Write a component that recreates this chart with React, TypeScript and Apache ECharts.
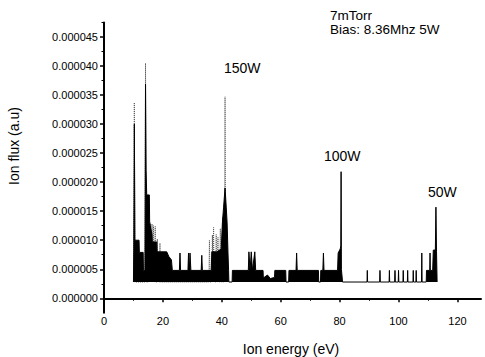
import React, { useEffect, useRef } from "react";
import * as echarts from "echarts";

// Noise floor of the detector (a.u.)
const baseline = 2.8e-6;

// 150W: tall dotted spikes (eV, flux)
const energy150 = [
  10.1, 10.3, 10.5, 13.9, 14.1, 14.3, 15.0, 15.2, 15.4, 15.6, 15.8, 16.0, 16.1, 16.3, 16.5, 16.6, 16.8, 17.0, 17.2, 17.4, 17.6,
  17.9, 18.1, 18.3, 18.8, 19.0, 19.2, 35.6, 35.8, 36.0, 36.6, 36.8, 37.0, 37.0, 37.2, 37.4, 37.9, 38.1, 38.3, 38.5, 38.7, 38.9,
  39.3, 39.5, 39.7, 40.1, 40.3, 40.5, 40.8, 41.1, 41.4,
];
const flux150 = [
  2.8e-6, 33.7e-6, 2.8e-6, 2.8e-6, 40.5e-6, 2.8e-6, 2.8e-6, 13.2e-6, 2.8e-6, 2.8e-6, 13.0e-6, 2.8e-6, 2.8e-6, 12.8e-6, 2.8e-6, 2.8e-6, 12.5e-6, 2.8e-6, 2.8e-6, 12.4e-6, 2.8e-6,
  2.8e-6, 10.2e-6, 2.8e-6, 2.8e-6, 9.5e-6, 2.8e-6, 2.8e-6, 10.0e-6, 2.8e-6, 2.8e-6, 10.9e-6, 2.8e-6, 2.8e-6, 12.2e-6, 2.8e-6, 2.8e-6, 11.0e-6, 2.8e-6, 2.8e-6, 10.5e-6, 2.8e-6,
  2.8e-6, 12.0e-6, 2.8e-6, 2.8e-6, 14.0e-6, 2.8e-6, 2.8e-6, 34.7e-6, 2.8e-6,
];

// 100W: dense band with peak near 80 eV
const energy100 = [
  10.0, 10.1, 10.3, 10.5, 10.7, 11.9, 12.0, 13.3, 13.4, 13.9, 14.1, 14.3, 14.5, 15.4, 15.5, 16.3, 16.4, 17.9, 18.0, 21.3,
  22.0, 22.9, 23.2, 25.6, 25.8, 26.0, 28.5, 28.7, 29.0, 29.2, 29.5, 33.0, 33.2, 33.4, 36.4, 36.6, 38.3, 39.8, 40.2, 40.6,
  41.1, 41.5, 41.8, 42.1, 42.3, 42.4, 43.5, 43.6, 49.0, 49.2, 49.6, 50.0, 50.4, 51.2, 51.5, 54.0, 54.1, 55.5, 56.5, 57.9,
  58.0, 61.7, 61.8, 62.7, 62.8, 65.2, 65.4, 65.6, 72.8, 72.9, 73.5, 73.6, 74.3, 74.5, 74.7, 79.3, 79.5, 80.2, 80.4, 80.5,
  80.6, 81.0,
];
const flux100 = [
  2.8e-6, 8e-6, 30e-6, 10e-6, 10e-6, 10e-6, 7.9e-6, 7.9e-6, 4.8e-6, 4.8e-6, 36.9e-6, 22e-6, 17.8e-6, 17.8e-6, 13e-6, 11e-6, 9.7e-6, 9.7e-6, 8e-6, 8e-6,
  7.2e-6, 6.6e-6, 4.8e-6, 4.8e-6, 7.8e-6, 4.8e-6, 4.8e-6, 7.8e-6, 4.8e-6, 7.8e-6, 4.8e-6, 4.8e-6, 7.4e-6, 4.8e-6, 4.8e-6, 8e-6, 8e-6, 8.5e-6, 13e-6, 15.7e-6,
  19e-6, 15.7e-6, 13e-6, 7.8e-6, 4.8e-6, 2.8e-6, 2.8e-6, 4.8e-6, 4.8e-6, 8e-6, 4.8e-6, 8e-6, 4.8e-6, 8e-6, 4.8e-6, 4.8e-6, 3.5e-6, 4.0e-6, 3.4e-6, 3.6e-6,
  4.8e-6, 4.8e-6, 2.8e-6, 2.8e-6, 4.8e-6, 4.8e-6, 7.8e-6, 4.8e-6, 4.8e-6, 2.8e-6, 2.8e-6, 4.8e-6, 4.8e-6, 7.8e-6, 4.8e-6, 4.8e-6, 7.8e-6, 8.5e-6, 9e-6, 21.8e-6,
  5e-6, 2.8e-6,
];

// 50W: sparse spikes with peak near 113 eV
const energy50 = [
  81.0, 89.3, 89.4, 89.5, 93.6, 93.7, 93.8, 96.8, 96.9, 97.0, 98.7, 98.8, 98.9, 99.9, 100.0, 100.1, 101.5, 101.6, 101.7,
  103.0, 103.1, 103.2, 104.9, 105.0, 105.1, 105.9, 106.0, 106.1, 107.8, 107.9, 108.0, 109.4, 109.5, 110.6, 110.7, 110.8,
  111.6, 111.8, 112.5, 112.7, 112.9, 113.1,
];
const flux50 = [
  2.8e-6, 2.8e-6, 4.8e-6, 2.8e-6, 2.8e-6, 4.8e-6, 2.8e-6, 2.8e-6, 4.8e-6, 2.8e-6, 2.8e-6, 4.8e-6, 2.8e-6, 2.8e-6, 4.8e-6, 2.8e-6, 2.8e-6, 4.8e-6, 2.8e-6,
  2.8e-6, 4.8e-6, 2.8e-6, 2.8e-6, 4.8e-6, 2.8e-6, 2.8e-6, 4.8e-6, 2.8e-6, 2.8e-6, 7.8e-6, 2.8e-6, 2.8e-6, 4.8e-6, 4.8e-6, 7.8e-6, 4.8e-6,
  4.8e-6, 8.3e-6, 8.3e-6, 15.7e-6, 8e-6, 2.8e-6,
];

const xTicks = [0, 20, 40, 60, 80, 100, 120];
const xMinorTicks = [10, 30, 50, 70, 90, 110];
const yTicks = [0, 5e-6, 10e-6, 15e-6, 20e-6, 25e-6, 30e-6, 35e-6, 40e-6, 45e-6];
const yMinorTicks = [2.5e-6, 7.5e-6, 12.5e-6, 17.5e-6, 22.5e-6, 27.5e-6, 32.5e-6, 37.5e-6, 42.5e-6, 47.5e-6];

const FONT = "'Liberation Sans', Arial, sans-serif";

const zip = (xs: number[], ys: number[]) => xs.map((x, i) => [x, ys[i]]);

export default function App() {
  const ref = useRef<HTMLDivElement>(null);
  useEffect(() => {
    if (!ref.current) return;
    const chart = echarts.init(ref.current, null, { renderer: "svg" });
    const axisCommon = {
      axisLine: { show: true, lineStyle: { color: "#000", width: 2 } },
      splitLine: { show: false },
    };
    chart.setOption({
      animation: false,
      backgroundColor: "#fff",
      grid: { left: 104, right: 4, top: 22.5, bottom: 44.2, containLabel: false, outerBoundsMode: "none" },
      xAxis: [
        {
          type: "value",
          min: 0,
          max: 128,
          ...axisCommon,
          axisTick: { show: true, customValues: xTicks, length: 4, lineStyle: { color: "#000", width: 1.5 } },
          axisLabel: { customValues: xTicks, color: "#000", fontSize: 11, fontFamily: FONT, margin: 3 },
        },
        {
          type: "value",
          min: 0,
          max: 128,
          position: "bottom",
          axisLine: { show: false },
          splitLine: { show: false },
          axisTick: { show: true, customValues: xMinorTicks, length: 2.5, lineStyle: { color: "#000", width: 1 } },
          axisLabel: { show: false },
        },
      ],
      yAxis: [
        {
          type: "value",
          min: -2.5e-6,
          max: 47.5e-6,
          ...axisCommon,
          axisTick: { show: true, customValues: yTicks, length: 4, lineStyle: { color: "#000", width: 1.5 } },
          axisLabel: {
            customValues: yTicks,
            color: "#000",
            fontSize: 11,
            fontFamily: FONT,
            margin: 6,
            formatter: (v: number) => v.toFixed(6),
          },
        },
        {
          type: "value",
          min: -2.5e-6,
          max: 47.5e-6,
          position: "left",
          offset: 0,
          axisLine: { show: false },
          splitLine: { show: false },
          axisTick: { show: true, customValues: yMinorTicks, length: 2.5, lineStyle: { color: "#000", width: 1 } },
          axisLabel: { show: false },
        },
      ],
      series: [
        {
          name: "150W",
          type: "line",
          data: zip(energy150, flux150),
          showSymbol: false,
          lineStyle: { color: "#555", width: 1, type: "dotted" },
          z: 1,
        },
        {
          name: "100W",
          type: "line",
          data: zip(energy100, flux100),
          showSymbol: false,
          lineStyle: { color: "#000", width: 1 },
          areaStyle: { color: "#000", opacity: 1, origin: baseline },
          z: 2,
        },
        {
          name: "50W",
          type: "line",
          data: zip(energy50, flux50),
          showSymbol: false,
          lineStyle: { color: "#000", width: 1 },
          areaStyle: { color: "#000", opacity: 1, origin: baseline },
          z: 2,
        },
      ],
      graphic: [
        { type: "text", left: 330, top: 8, style: { text: "7mTorr", font: `13.5px ${FONT}`, fill: "#000" } },
        { type: "text", left: 330, top: 22, style: { text: "Bias: 8.36Mhz 5W", font: `13.5px ${FONT}`, fill: "#000" } },
        { type: "text", left: 224, top: 61, style: { text: "150W", font: `14px ${FONT}`, fill: "#000" } },
        { type: "text", left: 324, top: 149, style: { text: "100W", font: `14px ${FONT}`, fill: "#000" } },
        { type: "text", left: 428, top: 185, style: { text: "50W", font: `14px ${FONT}`, fill: "#000" } },
        {
          type: "text",
          x: 14,
          y: 146,
          rotation: Math.PI / 2,
          style: { text: "Ion flux (a.u)", font: `14px ${FONT}`, fill: "#000", align: "center", verticalAlign: "middle" },
        },
        {
          type: "text",
          x: 291,
          y: 349,
          style: { text: "Ion energy (eV)", font: `14px ${FONT}`, fill: "#000", align: "center", verticalAlign: "middle" },
        },
      ],
    });
    return () => chart.dispose();
  }, []);
  return <div ref={ref} style={{ width: 485, height: 357, position: "absolute", left: 0, top: 0 }} />;
}
